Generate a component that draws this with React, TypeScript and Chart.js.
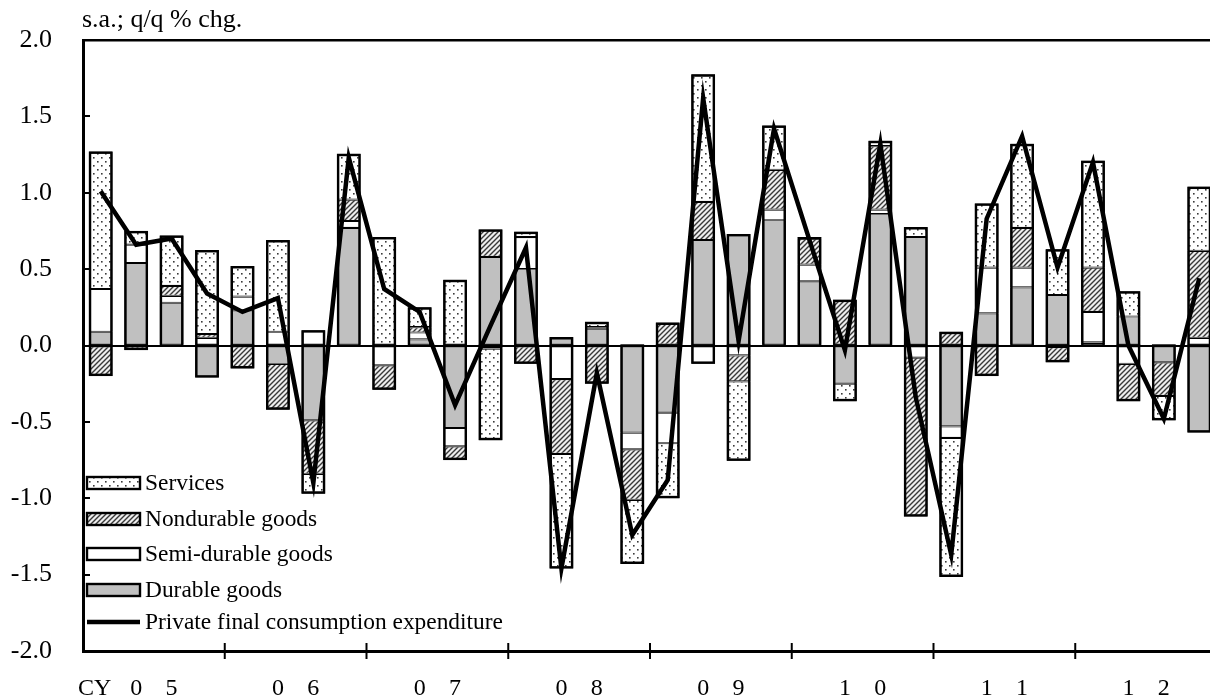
import React, { useEffect, useRef } from "react";
import { Chart, registerables } from "chart.js";

Chart.register(...registerables);

// ---------------- data ----------------
const quarters = [
  "2005Q1", "2005Q2", "2005Q3", "2005Q4",
  "2006Q1", "2006Q2", "2006Q3", "2006Q4",
  "2007Q1", "2007Q2", "2007Q3", "2007Q4",
  "2008Q1", "2008Q2", "2008Q3", "2008Q4",
  "2009Q1", "2009Q2", "2009Q3", "2009Q4",
  "2010Q1", "2010Q2", "2010Q3", "2010Q4",
  "2011Q1", "2011Q2", "2011Q3", "2011Q4",
  "2012Q1", "2012Q2", "2012Q3", "2012Q4",
];

const xTickLabels = [
  "CY  ", "0", "5", "",
  "", "0", "6", "",
  "", "0", "7", "",
  "", "0", "8", "",
  "", "0", "9", "",
  "", "1", "0", "",
  "", "1", "1", "",
  "", "1", "2", "",
];

const durable = [
  0.09, 0.54, 0.28, -0.21,
  0.23, -0.12, -0.49, 0.77,
  0.0, 0.04, -0.54, 0.58,
  0.5, 0.055, 0.11, -0.57,
  -0.44, 0.69, 0.73, 0.82,
  0.42, -0.25, 0.86, 0.71,
  -0.53, 0.21, 0.38, 0.33,
  0.02, 0.19, -0.11, -0.57,
];

const semiDurable = [
  0.28, 0.12, 0.045, 0.05,
  0.09, 0.09, 0.1, 0.045,
  -0.13, 0.045, -0.12, -0.02,
  0.21, -0.22, 0.01, -0.11,
  -0.2, -0.12, -0.065, 0.07,
  0.11, 0.0, 0.03, -0.08,
  -0.075, 0.3, 0.13, -0.01,
  0.2, -0.12, 0.0, 0.05,
];

const nondurable = [
  -0.2, -0.03, 0.065, 0.025,
  -0.15, -0.3, -0.35, 0.14,
  -0.16, 0.035, -0.09, 0.18,
  -0.12, -0.49, -0.25, -0.33,
  0.15, 0.25, -0.17, 0.26,
  0.17, 0.3, 0.415, -1.04,
  0.09, -0.2, 0.26, -0.1,
  0.29, -0.245, -0.22, 0.57,
];

const services = [
  0.9, 0.09, 0.33, 0.55,
  0.2, 0.6, -0.13, 0.3,
  0.71, 0.13, 0.43, -0.6,
  0.035, -0.75, 0.035, -0.42,
  -0.36, 0.835, -0.52, 0.29,
  0.01, -0.115, 0.035, 0.065,
  -0.91, 0.42, 0.55, 0.3,
  0.7, 0.165, -0.16, 0.42,
];

const pfce = [
  1.01, 0.66, 0.7, 0.34,
  0.22, 0.31, -0.9, 1.23,
  0.37, 0.22, -0.39, 0.13,
  0.64, -1.46, -0.18, -1.24,
  -0.88, 1.62, 0.03, 1.42,
  0.69, -0.03, 1.32, -0.34,
  -1.37, 0.83, 1.37, 0.51,
  1.2, 0.0, -0.48, 0.44,
];

const titleText = "s.a.; q/q % chg.";
const legendOrder = [
  "Services",
  "Nondurable goods",
  "Semi-durable goods",
  "Durable goods",
  "Private final consumption expenditure",
];

const FONT = "'Liberation Serif', 'Times New Roman', serif";

function makeTile(w: number, h: number, draw: (g: CanvasRenderingContext2D) => void) {
  const c = document.createElement("canvas");
  c.width = w;
  c.height = h;
  const g = c.getContext("2d")!;
  draw(g);
  return c;
}

export default function App() {
  const ref = useRef<HTMLCanvasElement>(null);

  useEffect(() => {
    const canvas = ref.current!;
    const ctx0 = canvas.getContext("2d")!;

    const dotTile = makeTile(8, 8, (g) => {
      g.fillStyle = "#ffffff";
      g.fillRect(0, 0, 8, 8);
      g.fillStyle = "#3a3a3a";
      g.fillRect(1, 1, 1.6, 1.6);
      g.fillRect(5, 5, 1.6, 1.6);
    });
    const hatchTile = makeTile(5, 5, (g) => {
      g.fillStyle = "#eeeeee";
      g.fillRect(0, 0, 5, 5);
      g.strokeStyle = "#383838";
      g.lineWidth = 1.4;
      g.beginPath();
      g.moveTo(-1, 6);
      g.lineTo(6, -1);
      g.moveTo(-1, 1);
      g.lineTo(1, -1);
      g.moveTo(4, 6);
      g.lineTo(6, 4);
      g.stroke();
    });
    const dots = ctx0.createPattern(dotTile, "repeat")!;
    const hatch = ctx0.createPattern(hatchTile, "repeat")!;

    const barCommon = {
      type: "bar" as const,
      stack: "components",
      order: 1,
      borderColor: "#000000",
      borderWidth: 1.1,
      borderSkipped: false as const,
      categoryPercentage: 1,
      barPercentage: 0.67,
    };

    // outline each positive / negative stack with a heavier border
    const outline = {
      id: "outline",
      beforeDatasetDraw(chart: any, args: any) {
        if (args.index !== 0) return; // line dataset is drawn last
        const { ctx, scales } = chart;
        const zero = scales.y.getPixelForValue(0);
        const barMetas = chart.getSortedVisibleDatasetMetas().filter((m: any) => m.type === "bar");
        ctx.save();
        ctx.strokeStyle = "#000";
        const lw = 2.4;
        ctx.lineWidth = lw;
        for (let i = 0; i < quarters.length; i++) {
          let top = zero;
          let bottom = zero;
          let cx = 0;
          let w = 0;
          barMetas.forEach((m: any) => {
            const el = m.data[i];
            const v = chart.data.datasets[m.index].data[i];
            if (!el || !v) return;
            cx = el.x;
            w = el.width;
            if (v > 0) top = Math.min(top, el.y);
            else bottom = Math.max(bottom, el.y);
          });
          if (!w) continue;
          const l = cx - w / 2 + lw / 2;
          const ww = w - lw;
          if (top < zero - 0.5) ctx.strokeRect(l, top + lw / 2, ww, zero - top - lw / 2);
          if (bottom > zero + 0.5) ctx.strokeRect(l, zero, ww, bottom - zero - lw / 2);
        }
        ctx.restore();
      },
    };

    const decor = {
      id: "decor",
      afterDraw(chart: any) {
        const { ctx, chartArea: a, scales } = chart;
        const x = scales.x;
        const y = scales.y;
        ctx.save();
        ctx.strokeStyle = "#000";
        ctx.lineWidth = 2;
        // inward y tick marks
        y.ticks.forEach((t: any) => {
          const py = Math.round(y.getPixelForValue(t.value));
          ctx.beginPath();
          ctx.moveTo(a.left, py);
          ctx.lineTo(a.left + 7, py);
          ctx.stroke();
        });
        // year boundary tick marks crossing the x axis
        for (let i = 4; i < quarters.length; i += 4) {
          const px = (x.getPixelForValue(i - 1) + x.getPixelForValue(i)) / 2;
          ctx.beginPath();
          ctx.moveTo(px, a.bottom - 8);
          ctx.lineTo(px, a.bottom + 8);
          ctx.stroke();
        }
        // unit title
        ctx.fillStyle = "#000";
        ctx.font = `26px ${FONT}`;
        ctx.textAlign = "left";
        ctx.textBaseline = "alphabetic";
        ctx.fillText(titleText, a.left - 1, 27);

        // legend inside plot area (lower left)
        const rowOffsets = [168, 132, 97, 61, 29];
        ctx.font = `23.4px ${FONT}`;
        ctx.textBaseline = "middle";
        legendOrder.forEach((name, i) => {
          const ds = chart.data.datasets.find((d: any) => d.label === name);
          const cy = a.bottom - rowOffsets[i];
          const bx = a.left + 4;
          const bw = 53;
          if (ds.type === "line") {
            ctx.strokeStyle = "#000";
            ctx.lineWidth = 4.5;
            ctx.beginPath();
            ctx.moveTo(bx, cy);
            ctx.lineTo(bx + bw, cy);
            ctx.stroke();
          } else {
            ctx.fillStyle = ds.backgroundColor;
            ctx.fillRect(bx, cy - 6, bw, 12);
            ctx.strokeStyle = "#000";
            ctx.lineWidth = 2.4;
            ctx.strokeRect(bx, cy - 6, bw, 12);
          }
          ctx.fillStyle = "#000";
          ctx.fillText(name, bx + bw + 5, cy + 1);
        });
        ctx.restore();
      },
    };

    const chart = new Chart(canvas, {
      type: "bar",
      data: {
        labels: quarters,
        datasets: [
          {
            type: "line",
            label: "Private final consumption expenditure",
            data: pfce,
            borderColor: "#000000",
            backgroundColor: "#000000",
            borderWidth: 4.5,
            pointRadius: 0,
            tension: 0,
            fill: false,
            stack: "pfce",
            order: 0,
          } as any,
          { ...barCommon, label: "Durable goods", data: durable, backgroundColor: "#c0c0c0" },
          { ...barCommon, label: "Semi-durable goods", data: semiDurable, backgroundColor: "#ffffff" },
          { ...barCommon, label: "Nondurable goods", data: nondurable, backgroundColor: hatch },
          { ...barCommon, label: "Services", data: services, backgroundColor: dots },
        ],
      },
      options: {
        responsive: false,
        animation: false,
        devicePixelRatio: 1,
        layout: { padding: { top: 40, right: 8, left: 0, bottom: 0 } },
        plugins: {
          legend: { display: false },
          tooltip: { enabled: false },
          title: { display: false },
        },
        scales: {
          x: {
            type: "category",
            stacked: true,
            offset: true,
            grid: { display: false },
            border: { display: true, color: "#000", width: 3 },
            ticks: {
              autoSkip: false,
              maxRotation: 0,
              minRotation: 0,
              padding: 15,
              color: "#000",
              font: { family: FONT, size: 24 },
              callback: (_v: any, i: number) => xTickLabels[i],
            },
            afterFit: (s: any) => {
              s.height = 47;
            },
          },
          y: {
            type: "linear",
            stacked: true,
            min: -2,
            max: 2,
            ticks: {
              stepSize: 0.5,
              padding: 0,
              color: "#000",
              font: { family: FONT, size: 26 },
              callback: (v: any) => Number(v).toFixed(1),
            },
            grid: {
              drawTicks: true,
              tickLength: 31,
              tickColor: "rgba(0,0,0,0)",
              color: (c: any) =>
                c.tick && (c.tick.value === 0 || c.tick.value === 2) ? "#000" : "rgba(0,0,0,0)",
              lineWidth: (c: any) => (c.tick && c.tick.value === 2 ? 2.5 : 2),
            },
            border: { display: true, color: "#000", width: 3 },
            afterFit: (s: any) => {
              s.width = 83;
            },
          },
        },
      },
      plugins: [outline, decor],
    });

    return () => chart.destroy();
  }, []);

  return (
    <div
      style={{
        position: "fixed",
        left: 0,
        top: 0,
        width: 1210,
        height: 698,
        overflow: "hidden",
        background: "#ffffff",
      }}
    >
      <canvas ref={ref} width={1225} height={698} style={{ display: "block", width: 1225, height: 698 }} />
    </div>
  );
}
